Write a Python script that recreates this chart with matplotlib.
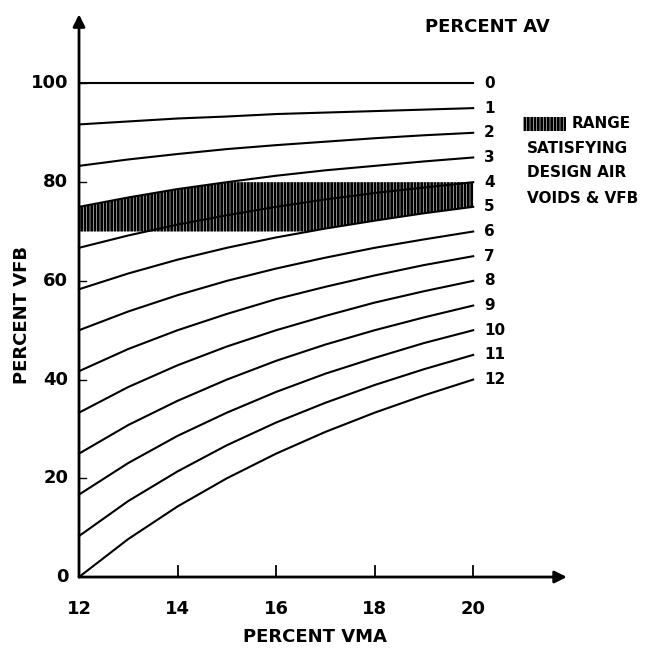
import matplotlib
matplotlib.use("Agg")
import matplotlib.pyplot as plt
from matplotlib.patches import Rectangle

plt.rcParams['font.family'] = ['DejaVu Sans']
plt.rcParams['font.weight'] = 'bold'
plt.rcParams['hatch.linewidth'] = 2.0

# percent VMA where the curves were read
vma = [12, 13, 14, 15, 16, 17, 18, 19, 20]

# percent VFB
av_labels = ['0', '1', '2', '3', '4', '5', '6', '7', '8', '9', '10', '11', '12']
vfb = [
    [100, 100, 100, 100, 100, 100, 100, 100, 100],
    [91.7, 92.3, 92.9, 93.3, 93.8, 94.1, 94.4, 94.7, 95.0],
    [83.3, 84.6, 85.7, 86.7, 87.5, 88.2, 88.9, 89.5, 90.0],
    [75.0, 76.9, 78.6, 80.0, 81.3, 82.4, 83.3, 84.2, 85.0],
    [66.7, 69.2, 71.4, 73.3, 75.0, 76.5, 77.8, 78.9, 80.0],
    [58.3, 61.5, 64.3, 66.7, 68.8, 70.6, 72.2, 73.7, 75.0],
    [50.0, 53.8, 57.1, 60.0, 62.5, 64.7, 66.7, 68.4, 70.0],
    [41.7, 46.2, 50.0, 53.3, 56.3, 58.8, 61.1, 63.2, 65.0],
    [33.3, 38.5, 42.9, 46.7, 50.0, 52.9, 55.6, 57.9, 60.0],
    [25.0, 30.8, 35.7, 40.0, 43.8, 47.1, 50.0, 52.6, 55.0],
    [16.7, 23.1, 28.6, 33.3, 37.5, 41.2, 44.4, 47.4, 50.0],
    [8.3, 15.4, 21.4, 26.7, 31.3, 35.3, 38.9, 42.1, 45.0],
    [0.0, 7.7, 14.3, 20.0, 25.0, 29.4, 33.3, 36.8, 40.0],
]

# shaded design range (3-5 % air voids, 70-80 % VFB)
band_x = [12, 13, 14, 15, 16, 16.7, 17, 18, 19, 20]
band_top = [75.0, 76.9, 78.6, 80, 80, 80, 80, 80, 80, 80]
band_bot = [70, 70, 70, 70, 70, 70, 70.6, 72.2, 73.7, 75.0]

x_ticks = [14, 16, 18, 20]
x_ticklabels = ['12', '14', '16', '18', '20']
y_ticks = [20, 40, 60, 80, 100]
y_ticklabels = ['0', '20', '40', '60', '80', '100']

fig = plt.figure(figsize=(6.53, 6.52), dpi=100)
ax = fig.add_axes([0.121, 0.115, 0.747, 0.863])
ax.set_xlim(12, 21.9)
ax.set_ylim(0, 114)
for s in ax.spines.values():
    s.set_visible(False)
ax.set_xticks([])
ax.set_yticks([])

for lab, vals in zip(av_labels, vfb):
    ax.plot(vma, vals, color='black', lw=1.5, clip_on=False)
    ax.text(vma[-1] + 0.22, vals[-1], lab, fontsize=11, ha='left', va='center')

ax.fill_between(band_x, band_bot, band_top, facecolor='none', edgecolor='black',
                hatch='|||||', linewidth=0)

# axes with arrows
ax.annotate('', xy=(21.9, 0), xytext=(12, 0),
            arrowprops=dict(arrowstyle='-|>', color='black', lw=2, mutation_scale=18,
                            shrinkA=0, shrinkB=0))
ax.annotate('', xy=(12, 114), xytext=(12, 0),
            arrowprops=dict(arrowstyle='-|>', color='black', lw=2, mutation_scale=18,
                            shrinkA=0, shrinkB=0))

for t in x_ticks:
    ax.plot([t, t], [0, 2.2], color='black', lw=1.3)
for t in y_ticks:
    ax.plot([12, 12.15], [t, t], color='black', lw=1.0)

for i, lab in enumerate(x_ticklabels):
    ax.text(12 + 2 * i, -6.5, lab, fontsize=13, ha='center', va='center')
for i, lab in enumerate(y_ticklabels):
    ax.text(11.78, 20 * i, lab, fontsize=13, ha='right', va='center')

fig.text(0.482, 0.023, 'PERCENT VMA', fontsize=13, ha='center', va='center')
fig.text(0.034, 0.517, 'PERCENT VFB', fontsize=13, ha='center', va='center', rotation=90)
fig.text(0.746, 0.958, 'PERCENT AV', fontsize=13, ha='center', va='center')

# legend
fig.patches.append(Rectangle((0.801, 0.799), 0.066, 0.022, transform=fig.transFigure,
                             facecolor='none', edgecolor='black', hatch='|||||', linewidth=0))
fig.text(0.876, 0.811, 'RANGE', fontsize=11, ha='left', va='center')
fig.text(0.807, 0.773, 'SATISFYING', fontsize=11, ha='left', va='center')
fig.text(0.807, 0.735, 'DESIGN AIR', fontsize=11, ha='left', va='center')
fig.text(0.807, 0.695, 'VOIDS & VFB', fontsize=11, ha='left', va='center')

fig.savefig('out.png', dpi=100, facecolor='white')
